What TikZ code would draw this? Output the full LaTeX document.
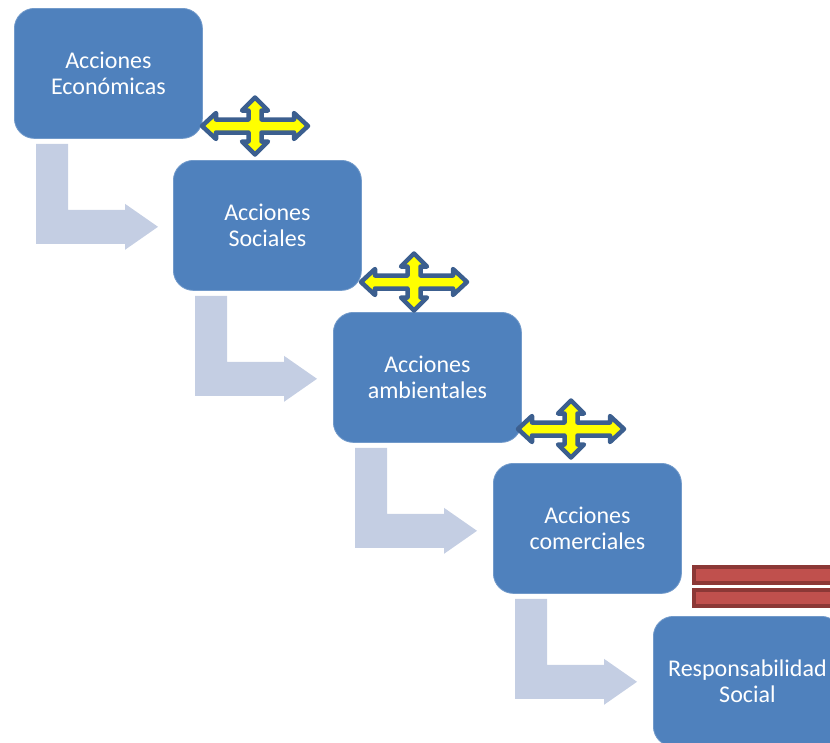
\documentclass[tikz,border=0pt]{standalone}
\usepackage{fontspec}
\setmainfont{Carlito}
\usetikzlibrary{calc}
\definecolor{boxblue}{HTML}{4F81BD}
\definecolor{bentblue}{RGB}{196,206,227}
\definecolor{quadline}{HTML}{3C5F8F}
\definecolor{quadfill}{HTML}{FFFF00}
\definecolor{eqfill}{HTML}{C0504D}
\definecolor{eqline}{HTML}{8C3836}
\tikzset{
  stepbox/.style={rectangle, rounded corners=20, fill=boxblue, draw=boxblue!80!white, line width=0.8,
    minimum width=188, minimum height=130, inner sep=0, anchor=north west,
    text=white, align=center, font=\fontsize{24}{26}\selectfont},
  bentarrow/.pic={
    \fill[bentblue] (0,0) -- (32,0) -- (32,66) -- (89,66) -- (89,60) -- (122,83)
      -- (89,106) -- (89,100) -- (0,100) -- cycle;
  },
  quadarrow/.pic={
    \filldraw[fill=quadfill, draw=quadline, line width=4.5, line join=round]
      (53,0) -- (39,13) -- (39,6.5) -- (6.5,6.5) -- (6.5,15.5) -- (13,15.5) -- (0,28.5)
      -- (-13,15.5) -- (-6.5,15.5) -- (-6.5,6.5) -- (-39,6.5) -- (-39,13) -- (-53,0)
      -- (-39,-13) -- (-39,-6.5) -- (-6.5,-6.5) -- (-6.5,-15.5) -- (-13,-15.5) -- (0,-28.5)
      -- (13,-15.5) -- (6.5,-15.5) -- (6.5,-6.5) -- (39,-6.5) -- (39,-13) -- cycle;
  },
  eqbar/.style={fill=eqfill, draw=eqline, line width=4}
}
\begin{document}
\begin{tikzpicture}[x=1pt, y=-1pt]
\useasboundingbox (0,0) rectangle (830,742);
\clip (0,0) rectangle (830,742);
% boxes
\node[stepbox] (b1) at (14,8) {Acciones\\Económicas};
\node[stepbox] (b2) at (173,160) {Acciones\\Sociales};
\node[stepbox] (b3) at (333,312) {Acciones\\ambientales};
\node[stepbox] (b4) at (493,463) {Acciones\\comerciales};
\node[stepbox] (b5) at (653,616) {Responsabilidad\\Social};
% bent arrows
\pic at ($(b1.south west)+(22,5)$) {bentarrow};
\pic at ($(b2.south west)+(22,5)$) {bentarrow};
\pic at ($(b3.south west)+(22,5)$) {bentarrow};
\pic at ($(b4.south west)+(22,5)$) {bentarrow};
% quad arrows
\pic at (255,126) {quadarrow};
\pic at (414,282) {quadarrow};
\pic at (571,429) {quadarrow};
% equals sign
\filldraw[eqbar] (694,567) rectangle (850,583);
\filldraw[eqbar] (694,590) rectangle (850,606);
\end{tikzpicture}
\end{document}
